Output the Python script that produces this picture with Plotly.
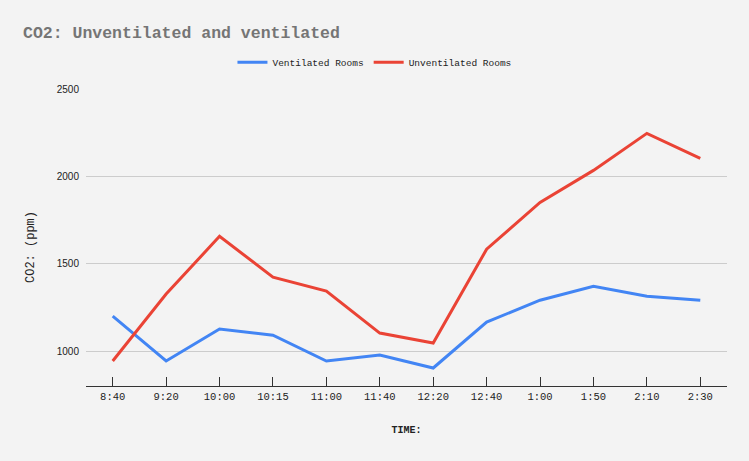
import plotly.graph_objects as go

times = ["8:40", "9:20", "10:00", "10:15", "11:00", "11:40", "12:20", "12:40", "1:00", "1:50", "2:10", "2:30"]
ventilated = [1200, 943, 1126, 1091, 943, 977, 903, 1166, 1291, 1371, 1314, 1291]
unventilated = [943, 1326, 1657, 1423, 1343, 1103, 1046, 1583, 1851, 2034, 2246, 2103]
y_ticks = [1000, 1500, 2000, 2500]

mono = "Liberation Mono, Courier New, monospace"
sans = "Liberation Sans, Arial, sans-serif"

W, H = 749, 461
L, R, T, B = 86, 22, 89, 75

fig = go.Figure()
fig.add_trace(go.Scatter(x=times, y=ventilated, mode="lines", name="Ventilated Rooms",
                         line=dict(color="#4285f4", width=3)))
fig.add_trace(go.Scatter(x=times, y=unventilated, mode="lines", name="Unventilated Rooms",
                         line=dict(color="#ea4335", width=3)))

fig.update_layout(
    width=W, height=H,
    paper_bgcolor="#f3f3f3", plot_bgcolor="#f3f3f3",
    margin=dict(l=L, r=R, t=T, b=B),
    title=dict(text="<b>CO2: Unventilated and ventilated</b>", x=23/W, xanchor="left",
               y=1-32/H, yanchor="middle", font=dict(family=mono, size=16.5, color="#757575")),
    legend=dict(orientation="h", x=0.45, xanchor="center", y=1.09, yanchor="middle",
                font=dict(family=mono, size=9.5, color="#222222"), bgcolor="rgba(0,0,0,0)",
                itemwidth=30, tracegroupgap=0),
    showlegend=True,
)
fig.update_xaxes(
    type="category", range=[-0.5, 11.5], showgrid=False,
    showline=True, linecolor="#333333", linewidth=1,
    ticks="inside", ticklen=9, tickcolor="#333333",
    tickfont=dict(family=mono, size=10.5, color="#222222"),
    title=dict(text="<b>TIME:</b>", font=dict(family=mono, size=10, color="#222222"), standoff=24),
)
fig.update_yaxes(
    range=[800, 2500], tickvals=y_ticks, showgrid=True, gridcolor="#cccccc", gridwidth=1,
    zeroline=False, showline=False, ticks="", ticklabelstandoff=6,
    tickfont=dict(family=sans, size=10, color="#222222"),
)
fig.add_annotation(
    text="CO2: (ppm)", textangle=-90, showarrow=False,
    xref="paper", yref="paper", x=(31 - L) / (W - L - R), y=1 - (247 - T) / (H - T - B),
    xanchor="center", yanchor="middle",
    font=dict(family=mono, size=12, color="#222222"),
)

fig.write_html("out.html", config={"displayModeBar": False},
               post_script="document.body.style.margin='0';")
